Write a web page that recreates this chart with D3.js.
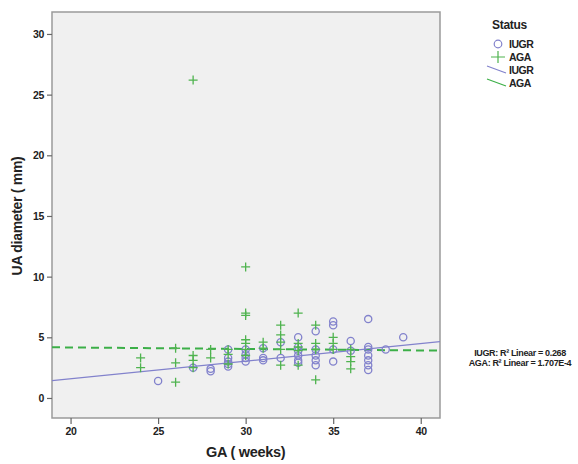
<!DOCTYPE html>
<html>
<head>
<meta charset="utf-8">
<script src="https://cdn.jsdelivr.net/npm/d3@7"></script>
<style>
  html, body { margin: 0; padding: 0; background: #ffffff; }
  svg text { font-family: "Liberation Sans", Arial, sans-serif; font-weight: bold; fill: #222; }
</style>
</head>
<body>
<svg id="chart" width="578" height="464"></svg>
<script>
// Gestational age (weeks) and umbilical artery diameter (mm), by group
const iugrGA = [25, 27, 28, 28, 29, 29, 29, 29, 29, 30, 30, 30, 30, 31, 31, 31, 32, 32,
                33, 33, 33, 33, 33, 33, 34, 34, 34, 34, 34, 35, 35, 35, 35, 36, 36,
                37, 37, 37, 37, 37, 37, 37, 38, 39];
const iugrUA = [1.4, 2.5, 2.2, 2.4, 4.0, 3.3, 3.0, 2.8, 2.6, 4.0, 3.6, 3.3, 3.0, 4.1, 3.3, 3.1, 4.6, 3.3,
                5.0, 4.2, 3.9, 3.5, 3.1, 2.9, 5.5, 4.0, 3.5, 3.1, 2.7, 6.3, 6.0, 4.0, 3.0, 4.7, 3.9,
                6.5, 4.2, 4.0, 3.5, 3.1, 2.7, 2.3, 4.0, 5.0];

const agaGA = [24, 24, 26, 26, 26, 27, 27, 27, 27, 28, 28, 29, 29, 29,
               30, 30, 30, 30, 30, 30, 30, 31, 31, 32, 32, 32, 32, 32,
               33, 33, 33, 33, 33, 34, 34, 34, 34, 35, 35, 35, 36, 36, 36, 36];
const agaUA = [3.3, 2.5, 4.1, 2.9, 1.3, 26.2, 3.5, 3.1, 2.5, 4.0, 3.3, 4.0, 3.6, 2.8,
               10.8, 7.0, 6.8, 4.8, 4.5, 4.0, 3.5, 4.6, 4.1, 6.0, 5.2, 4.6, 4.0, 2.7,
               7.0, 4.5, 4.2, 3.9, 2.7, 6.0, 4.5, 4.0, 1.5, 5.0, 4.5, 4.0, 4.0, 3.4, 3.0, 2.4];

// Linear fit lines: [intercept, slope]
const iugrFit = [-1.33, 0.1453];
const agaFit = [4.41, -0.0123];
const fitLabels = ["IUGR: R\u00B2 Linear = 0.268", "AGA: R\u00B2 Linear = 1.707E-4"];

const xTicks = [20, 25, 30, 35, 40];
const yTicks = [0, 5, 10, 15, 20, 25, 30];
const xDomain = [18.94, 41.1];
const yDomain = [-1.65, 31.81];

const legendTitle = "Status";
const legendItems = [
  { label: "IUGR", kind: "circle" },
  { label: "AGA", kind: "plus" },
  { label: "IUGR", kind: "line" },
  { label: "AGA", kind: "dash" }
];

const iugrColor = "#8282cc";
const agaColor = "#4fb34f";
const agaLineColor = "#3caf48";

const svg = d3.select("#chart");
const plot = { left: 52, top: 12, right: 440, bottom: 418 };

const x = d3.scaleLinear().domain(xDomain).range([plot.left, plot.right]);
const y = d3.scaleLinear().domain(yDomain).range([plot.bottom, plot.top]);

// Plot background and frame
svg.append("rect")
  .attr("x", plot.left).attr("y", plot.top)
  .attr("width", plot.right - plot.left).attr("height", plot.bottom - plot.top)
  .attr("fill", "#f0f0f0")
  .attr("stroke", "#9a9a9a").attr("stroke-width", 1.5);

// Axes
const xAxis = svg.append("g")
  .attr("transform", `translate(0,${plot.bottom})`)
  .call(d3.axisBottom(x).tickValues(xTicks).tickSize(6).tickPadding(4));
const yAxis = svg.append("g")
  .attr("transform", `translate(${plot.left},0)`)
  .call(d3.axisLeft(y).tickValues(yTicks).tickSize(5).tickPadding(3));

[xAxis, yAxis].forEach(g => {
  g.select(".domain").remove();
  g.selectAll(".tick line").attr("stroke", "#666").attr("stroke-width", 1.2);
  g.selectAll(".tick text")
    .attr("font-family", "Liberation Sans, Arial, sans-serif")
    .attr("font-weight", "bold")
    .attr("font-size", 10.5)
    .attr("letter-spacing", -0.3)
    .attr("fill", "#2a2a2a");
});

// Axis titles
svg.append("text")
  .attr("x", x(30)).attr("y", 457)
  .attr("text-anchor", "middle")
  .attr("font-size", 14.5)
  .attr("letter-spacing", -0.3)
  .text("GA ( weeks)");

svg.append("text")
  .attr("transform", `translate(22,${y(15)}) rotate(-90)`)
  .attr("text-anchor", "middle")
  .attr("font-size", 14)
  .attr("letter-spacing", -0.3)
  .text("UA diameter ( mm)");

// Clip so fit lines stay inside the frame
svg.append("clipPath").attr("id", "plotClip")
  .append("rect")
  .attr("x", plot.left).attr("y", plot.top)
  .attr("width", plot.right - plot.left).attr("height", plot.bottom - plot.top);

const inner = svg.append("g").attr("clip-path", "url(#plotClip)");

// IUGR fit (solid)
inner.append("line")
  .attr("x1", x(xDomain[0])).attr("y1", y(iugrFit[0] + iugrFit[1] * xDomain[0]))
  .attr("x2", x(xDomain[1])).attr("y2", y(iugrFit[0] + iugrFit[1] * xDomain[1]))
  .attr("stroke", iugrColor).attr("stroke-width", 1.3);

// AGA fit (dashed)
inner.append("line")
  .attr("x1", x(xDomain[0])).attr("y1", y(agaFit[0] + agaFit[1] * xDomain[0]))
  .attr("x2", x(xDomain[1])).attr("y2", y(agaFit[0] + agaFit[1] * xDomain[1]))
  .attr("stroke", agaLineColor).attr("stroke-width", 2)
  .attr("stroke-dasharray", "8,5");

// IUGR points (open circles)
inner.selectAll("circle.iugr")
  .data(d3.zip(iugrGA, iugrUA))
  .join("circle")
  .attr("class", "iugr")
  .attr("cx", d => x(d[0])).attr("cy", d => y(d[1]))
  .attr("r", 3.6)
  .attr("fill", "none")
  .attr("stroke", iugrColor).attr("stroke-width", 1.3);

// AGA points (plus marks)
inner.selectAll("path.aga")
  .data(d3.zip(agaGA, agaUA))
  .join("path")
  .attr("class", "aga")
  .attr("transform", d => `translate(${x(d[0])},${y(d[1])})`)
  .attr("d", "M-4.5,0H4.5M0,-4.5V4.5")
  .attr("fill", "none")
  .attr("stroke", agaColor).attr("stroke-width", 1.3);

// Legend
const legend = svg.append("g");
legend.append("text")
  .attr("x", 492).attr("y", 29)
  .attr("font-size", 12)
  .attr("letter-spacing", -0.3)
  .text(legendTitle);

legendItems.forEach((item, i) => {
  const cy = 44 + i * 13;
  const g = legend.append("g");
  if (item.kind === "circle") {
    g.append("circle").attr("cx", 498).attr("cy", cy).attr("r", 3.8)
      .attr("fill", "none").attr("stroke", iugrColor).attr("stroke-width", 1.2);
  } else if (item.kind === "plus") {
    g.append("path").attr("d", `M491,${cy}H505M498,${cy - 6}V${cy + 6}`)
      .attr("fill", "none").attr("stroke", agaColor).attr("stroke-width", 1.2);
  } else if (item.kind === "line") {
    g.append("line").attr("x1", 487).attr("y1", cy - 4).attr("x2", 506).attr("y2", cy + 3)
      .attr("stroke", iugrColor).attr("stroke-width", 1.2);
  } else {
    g.append("line").attr("x1", 487).attr("y1", cy - 4).attr("x2", 506).attr("y2", cy + 3)
      .attr("stroke", agaLineColor).attr("stroke-width", 1.2);
  }
  g.append("text")
    .attr("x", 509).attr("y", cy + 4)
    .attr("font-size", 10.5)
    .attr("letter-spacing", -0.5)
    .text(item.label);
});

// Fit statistics
fitLabels.forEach((t, i) => {
  svg.append("text")
    .attr("x", 520).attr("y", 356 + i * 9.5)
    .attr("text-anchor", "middle")
    .attr("font-size", 9)
    .attr("letter-spacing", -0.35)
    .text(t);
});
</script>
</body>
</html>
